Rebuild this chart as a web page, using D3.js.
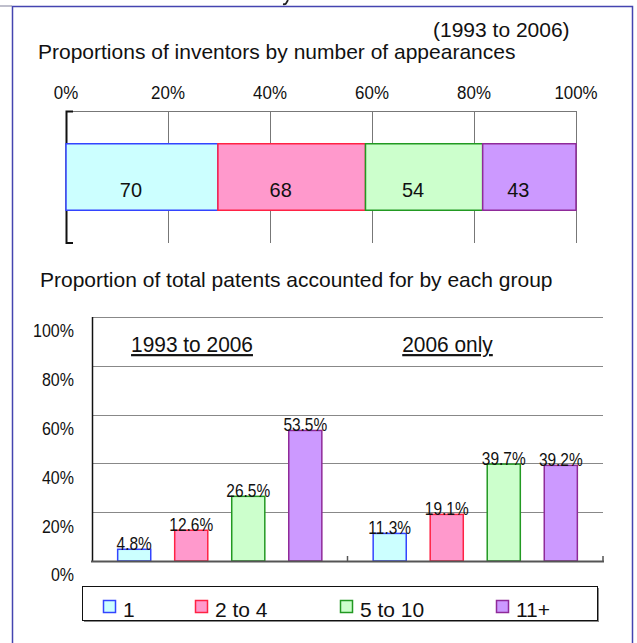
<!DOCTYPE html>
<html>
<head>
<meta charset="utf-8">
<script src="https://cdn.jsdelivr.net/npm/d3@7"></script>
<style>
  html, body { margin: 0; padding: 0; background: #fff; }
  svg { display: block; font-family: "Liberation Sans", Arial, sans-serif; }
</style>
</head>
<body>
<div id="chart"></div>
<script>
// groups of inventors by number of appearances
const categories = ["1", "2 to 4", "5 to 10", "11+"]
// top panel: number of inventors in each group (share of bar)
const inventorCounts = [70, 68, 54, 43]
const topTicks = [0, 0.2, 0.4, 0.6, 0.8, 1]
// bottom panel: share of patents per group (%)
const periods = ["1993 to 2006", "2006 only"]
const share1993to2006 = [4.8, 12.6, 26.5, 53.5]
const share2006 = [11.3, 19.1, 39.7, 39.2]
const bottomTicks = [0, 0.2, 0.4, 0.6, 0.8, 1]

const fills = d3.scaleOrdinal().domain(categories).range(["#ccffff", "#ff99cc", "#ccffcc", "#cc99ff"])
const strokes = d3.scaleOrdinal().domain(categories).range(["#3344ff", "#ff2244", "#229922", "#8f2a99"])

// the labels in the original look narrow, so squeeze them a bit horizontally
const squeeze = (x, y, s) => `translate(${x},${y}) scale(${s},1)`

const W = 637, H = 643
const svg = d3.select("#chart").append("svg")
    .attr("width", W)
    .attr("height", H)

// outer frame (cut from a bigger slide)
svg.append("line").attr("x1", 0).attr("x2", 12).attr("y1", 6).attr("y2", 6)
    .attr("stroke", "#aab").attr("stroke-width", 1.5)
svg.append("path")
    .attr("d", `M12.5,${H} V6.5 H632.5 V${H}`)
    .attr("fill", "none").attr("stroke", "#4444b0").attr("stroke-width", 1.5)
// tail of a letter from the slide title above, cropped by the frame
svg.append("path")
    .attr("d", "M288,0 L286,3.5 Q285,4.5 283,4.2")
    .attr("fill", "none").attr("stroke", "#222").attr("stroke-width", 1.8)

// ---------- top panel ----------
svg.append("text").attr("x", 433).attr("y", 37).attr("font-size", 21).attr("fill", "#111").text("(1993 to 2006)")
svg.append("text").attr("x", 38).attr("y", 59).attr("font-size", 21).attr("fill", "#111")
    .text("Proportions of inventors by number of appearances")

const total = d3.sum(inventorCounts)
const ends = d3.cumsum(inventorCounts).map(v => v / total)
const segs = inventorCounts.map((v, i) => ({ key: categories[i], value: v, x0: i ? ends[i - 1] : 0, x1: ends[i] }))

const xTop = d3.scaleLinear().domain([0, 1]).range([66, 576])
const yTop = d3.scaleBand().domain(["all"]).range([111, 243]).padding(0.33)

svg.append("g").selectAll("text")
    .data(topTicks)
    .join("text")
    .attr("transform", d => squeeze(xTop(d), 99, 0.89))
    .attr("text-anchor", "middle")
    .attr("font-size", 19)
    .attr("fill", "#111")
    .text(d3.format(".0%"))

// gridlines + top axis line
svg.append("g").selectAll("line")
    .data(topTicks.slice(1))
    .join("line")
    .attr("x1", d => xTop(d) + 0.5).attr("x2", d => xTop(d) + 0.5)
    .attr("y1", 111).attr("y2", 243)
    .attr("stroke", "#777").attr("stroke-width", 1)
svg.append("line").attr("x1", xTop(0)).attr("x2", xTop(1)).attr("y1", 111.5).attr("y2", 111.5)
    .attr("stroke", "#777")
svg.append("path")
    .attr("d", `M${xTop(0) + 7},111.5 H${xTop(0) + 0.5} V243 H${xTop(0) + 7}`)
    .attr("fill", "none").attr("stroke", "#111").attr("stroke-width", 2)

svg.append("g").selectAll("rect")
    .data(segs)
    .join("rect")
    .attr("x", d => xTop(d.x0))
    .attr("y", yTop("all"))
    .attr("width", d => xTop(d.x1) - xTop(d.x0))
    .attr("height", yTop.bandwidth())
    .attr("fill", d => fills(d.key))
    .attr("stroke", d => strokes(d.key))
    .attr("stroke-width", 1.5)

svg.append("g").selectAll("text")
    .data(segs)
    .join("text")
    .attr("transform", d => squeeze((xTop(d.x0) + xTop(d.x1)) / 2 - 11, yTop("all") + yTop.bandwidth() / 2 + 20, 0.95))
    .attr("text-anchor", "middle")
    .attr("font-size", 21)
    .attr("fill", "#111")
    .text(d => d.value)

// ---------- bottom panel ----------
svg.append("text").attr("x", 40).attr("y", 287).attr("font-size", 21).attr("fill", "#111")
    .text("Proportion of total patents accounted for by each group")

const shares = [share1993to2006, share2006]
const x0 = d3.scaleBand().domain(periods).range([92, 603])
const x1 = d3.scaleBand().domain(categories).range([0, x0.bandwidth()]).paddingInner(0.42).paddingOuter(0.45)
const yBot = d3.scaleLinear().domain([0, 1]).range([561, 317])

svg.append("g").selectAll("line")
    .data(bottomTicks.slice(1))
    .join("line")
    .attr("x1", 92).attr("x2", 603)
    .attr("y1", d => Math.round(yBot(d)) + 0.5).attr("y2", d => Math.round(yBot(d)) + 0.5)
    .attr("stroke", "#888").attr("stroke-width", 1)

svg.append("g").selectAll("text")
    .data(bottomTicks)
    .join("text")
    .attr("transform", d => squeeze(74, yBot(d) + 14, 0.89))
    .attr("dy", "0.35em")
    .attr("text-anchor", "end")
    .attr("font-size", 18)
    .attr("fill", "#111")
    .text(d3.format(".0%"))

svg.append("g").selectAll("text")
    .data(periods)
    .join("text")
    .attr("transform", d => squeeze(x0(d) + 100, 352, 0.95))
    .attr("text-anchor", "middle")
    .attr("font-size", 22)
    .attr("fill", "#111")
    .style("text-decoration", "underline")
    .text(d => d)

const bars = periods.flatMap((p, gi) => categories.map((c, i) => ({ period: p, key: c, value: shares[gi][i] })))

svg.append("g").selectAll("rect")
    .data(bars)
    .join("rect")
    .attr("x", d => x0(d.period) + x1(d.key))
    .attr("y", d => yBot(d.value / 100))
    .attr("width", x1.bandwidth())
    .attr("height", d => yBot(0) - yBot(d.value / 100))
    .attr("fill", d => fills(d.key))
    .attr("stroke", d => strokes(d.key))
    .attr("stroke-width", 1.5)

// axes on top of bars
svg.append("line").attr("x1", 92.5).attr("x2", 92.5).attr("y1", 317).attr("y2", 562)
    .attr("stroke", "#111").attr("stroke-width", 1.5)
svg.append("line").attr("x1", 91).attr("x2", 604).attr("y1", 561.5).attr("y2", 561.5)
    .attr("stroke", "#555").attr("stroke-width", 2)
svg.append("g").selectAll("line")
    .data(periods.map(p => x0(p) + x0.bandwidth()))
    .join("line")
    .attr("x1", d => d).attr("x2", d => d)
    .attr("y1", 556).attr("y2", 561)
    .attr("stroke", "#555").attr("stroke-width", 1.5)

svg.append("g").selectAll("text")
    .data(bars)
    .join("text")
    .attr("transform", d => squeeze(x0(d.period) + x1(d.key) + x1.bandwidth() / 2, yBot(d.value / 100) + 1, 0.86))
    .attr("text-anchor", "middle")
    .attr("font-size", 18)
    .attr("fill", "#111")
    .text(d => d.value.toFixed(1) + "%")

// legend
const legendX = [103, 195, 340, 496]
svg.append("rect").attr("x", 84).attr("y", 588).attr("width", 515).attr("height", 34)
    .attr("fill", "#888")
svg.append("rect").attr("x", 82.5).attr("y", 586.5).attr("width", 515).attr("height", 34)
    .attr("fill", "#fff").attr("stroke", "#111").attr("stroke-width", 1)
const legend = svg.append("g").selectAll("g")
    .data(categories)
    .join("g")
    .attr("transform", (d, i) => `translate(${legendX[i]},600)`)
legend.append("rect")
    .attr("x", 0.5).attr("y", 0.5).attr("width", 12).attr("height", 12)
    .attr("fill", d => fills(d))
    .attr("stroke", d => strokes(d))
    .attr("stroke-width", 1.5)
legend.append("text")
    .attr("x", 20).attr("y", 17)
    .attr("font-size", 21)
    .attr("fill", "#111")
    .text(d => d)
</script>
</body>
</html>
